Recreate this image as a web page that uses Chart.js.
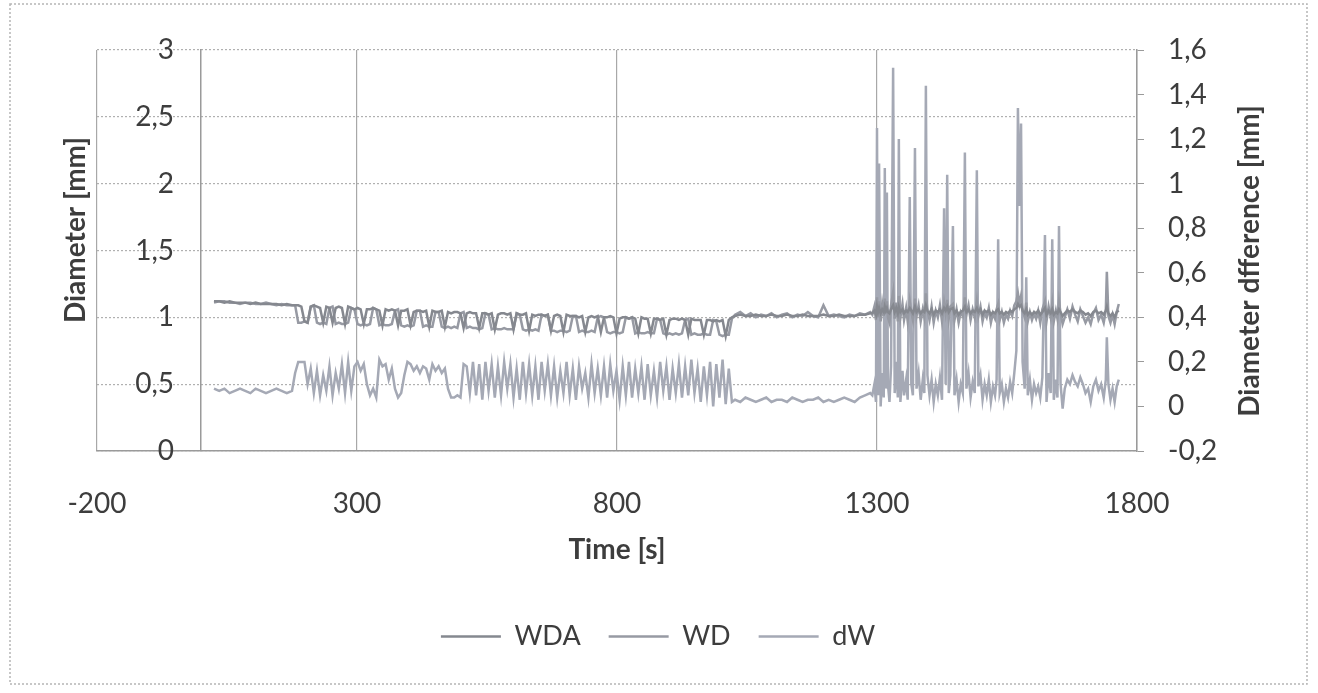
<!DOCTYPE html>
<html>
<head>
<meta charset="utf-8">
<script src="https://cdn.jsdelivr.net/npm/chart.js@4.4.1/dist/chart.umd.min.js"></script>
<style>
  html, body { margin: 0; padding: 0; background: #fff; }
  #chart { display: block; }
</style>
</head>
<body>
<canvas id="chart" width="1318" height="693"></canvas>
<script>
// time [s]
const time = [
  25, 35, 45, 55, 65, 75, 85, 95, 105, 115, 125, 135, 145, 155, 165, 175,
  181, 187, 193, 199, 205, 211, 217, 223, 229, 235,
  241, 247, 253, 259, 265, 271, 277, 283, 289, 295,
  301, 307, 313, 319, 325, 331, 337, 343, 349, 355,
  361, 367, 373, 379, 385, 391, 397, 403, 409, 415,
  421, 427, 433, 439, 445, 451, 457, 463, 469, 475,
  481, 487, 493, 499, 505, 511, 517, 523, 529, 535,
  541, 547, 553, 559, 565, 571, 577, 583, 589, 595,
  601, 607, 613, 619, 625, 631, 637, 643, 649, 655,
  661, 667, 673, 679, 685, 691, 697, 703, 709, 715,
  721, 727, 733, 739, 745, 751, 757, 763, 769, 775,
  781, 787, 793, 799, 805, 811, 817, 823, 829, 835,
  841, 847, 853, 859, 865, 871, 877, 883, 889, 895,
  901, 907, 913, 919, 925, 931, 937, 943, 949, 955,
  961, 967, 973, 979, 985, 991, 997, 1003, 1009, 1015,
  1021,
  1027, 1037, 1047, 1057, 1067, 1077, 1087, 1097, 1107, 1117,
  1127, 1137, 1147, 1157, 1167, 1177, 1187, 1197, 1207, 1217,
  1227, 1237, 1247, 1257, 1267, 1277, 1287,
  1291, 1295, 1298, 1300, 1302, 1304, 1307, 1310, 1313, 1315,
  1317, 1319, 1321, 1324, 1327, 1331, 1334, 1337, 1340, 1342,
  1345, 1349, 1352, 1356, 1359, 1363, 1366, 1369, 1373, 1376,
  1380, 1384, 1388, 1391, 1394, 1397, 1401, 1405, 1409, 1413,
  1417, 1421, 1425, 1429, 1432, 1435, 1438, 1441, 1446, 1449,
  1453, 1457, 1461, 1465, 1469, 1472, 1476, 1480, 1484, 1488,
  1492, 1495, 1499, 1503, 1507, 1511, 1515, 1519, 1523, 1527,
  1530, 1533, 1536, 1540, 1544, 1548, 1552, 1556, 1560, 1564,
  1568, 1571, 1574, 1577, 1580, 1584, 1587, 1590, 1594, 1598,
  1602, 1606, 1610, 1614, 1618, 1623, 1626, 1630, 1634, 1637,
  1640, 1644, 1647, 1650, 1653, 1657, 1661, 1666, 1671, 1676,
  1681, 1686, 1691, 1696, 1701, 1706, 1711, 1716, 1721, 1726,
  1731, 1736, 1740, 1742, 1745, 1749, 1753, 1757, 1761, 1765
];

// WDA [mm], left axis
const wda = [
  1.12, 1.12, 1.11, 1.12, 1.11, 1.11, 1.11, 1.10, 1.11, 1.10, 1.10, 1.10, 1.10, 1.09, 1.10, 1.09,
  1.09, 1.09, 1.08, 0.97, 0.96, 1.08, 1.09, 1.08, 1.07, 0.96,
  1.08, 1.07, 0.96, 1.07, 1.08, 1.07, 0.95, 1.08, 1.07, 1.06,
  1.07, 1.06, 0.95, 1.06, 1.06, 1.07, 1.06, 1.05, 0.94, 1.06,
  1.05, 1.06, 1.05, 0.94, 1.05, 1.05, 1.06, 0.94, 1.04, 1.05,
  1.05, 1.04, 1.05, 0.93, 1.05, 1.04, 1.04, 1.05, 0.93, 1.04,
  1.03, 1.04, 1.04, 1.03, 0.92, 1.03, 1.04, 1.03, 1.03, 0.92,
  1.03, 1.03, 1.02, 1.03, 0.91, 1.02, 1.03, 1.03, 1.02, 1.03,
  0.91, 1.03, 1.02, 1.02, 1.03, 0.90, 1.02, 1.01, 1.02, 1.02,
  1.01, 1.02, 0.90, 1.01, 1.02, 1.01, 0.89, 1.02, 1.01, 1.01,
  1.01, 1.00, 1.01, 0.89, 1.00, 1.01, 1.00, 1.01, 0.89, 1.00,
  1.00, 1.01, 1.00, 0.88, 0.99, 1.00, 1.00, 0.99, 1.00, 0.99,
  0.88, 1.00, 0.99, 0.99, 0.88, 0.99, 0.99, 0.98, 0.99, 0.87,
  0.98, 0.99, 0.99, 0.98, 0.99, 0.98, 0.87, 0.99, 0.98, 0.98,
  0.98, 0.87, 0.98, 0.98, 0.97, 0.98, 0.97, 0.98, 0.86, 0.98,
  1.00,
  1.01, 1.02, 1.01, 1.01, 1.02, 1.01, 1.01, 1.02, 1.01, 1.01,
  1.02, 1.01, 1.01, 1.02, 1.01, 1.01, 1.01, 1.02, 1.01, 1.01,
  1.02, 1.01, 1.01, 1.01, 1.02, 1.02, 1.03,
  1.03, 1.05, 1.02, 1.08, 1.04, 1.07, 1.03, 1.06, 1.04, 1.08,
  1.05, 1.07, 1.04, 1.03, 1.06, 1.09, 1.04, 1.07, 1.03, 1.08,
  1.04, 1.06, 1.03, 1.05, 1.04, 1.07, 1.05, 1.03, 1.08, 1.04,
  1.06, 1.03, 1.05, 1.04, 1.09, 1.05, 1.03, 1.06, 1.02, 1.05,
  1.04, 1.06, 1.03, 1.07, 1.05, 1.08, 1.04, 1.06, 1.07, 1.03,
  1.05, 1.02, 1.04, 1.05, 1.08, 1.04, 1.06, 1.03, 1.05, 1.04,
  1.07, 1.04, 1.06, 1.02, 1.05, 1.04, 1.05, 1.02, 1.04, 1.03,
  1.05, 1.06, 1.03, 1.04, 1.02, 1.04, 1.03, 1.05, 1.04, 1.06,
  1.07, 1.10, 1.08, 1.09, 1.05, 1.03, 1.06, 1.02, 1.04, 1.02,
  1.04, 1.03, 1.05, 1.02, 1.04, 1.07, 1.02, 1.05, 1.03, 1.06,
  1.02, 1.04, 1.03, 1.06, 1.04, 1.01, 1.03, 1.05, 1.04, 1.06,
  1.04, 1.03, 1.05, 1.04, 1.02, 1.03, 1.01, 1.04, 1.05, 1.03,
  1.04, 1.02, 1.05, 1.08, 1.03, 1.01, 1.03, 1.00, 1.04, 1.05
];

// WD [mm], left axis
const wd = [
  1.11, 1.12, 1.12, 1.11, 1.11, 1.10, 1.11, 1.11, 1.10, 1.10, 1.11, 1.10, 1.09, 1.10, 1.09, 1.09,
  1.09, 0.96, 0.96, 0.97, 0.96, 1.08, 1.09, 0.96, 0.95, 0.96,
  0.95, 1.07, 1.08, 0.95, 0.96, 0.95, 0.95, 0.96, 1.07, 1.06,
  0.95, 0.94, 0.95, 0.94, 0.95, 1.07, 1.06, 0.94, 0.95, 0.94,
  0.94, 0.95, 1.05, 1.06, 0.94, 0.93, 0.94, 0.93, 0.94, 1.05,
  1.05, 0.93, 0.94, 0.93, 0.93, 1.04, 1.04, 0.93, 0.92, 0.93,
  0.92, 0.93, 0.92, 1.03, 1.04, 0.92, 0.93, 0.92, 0.92, 0.91,
  0.92, 1.03, 1.02, 0.91, 0.92, 0.91, 0.91, 0.92, 0.91, 0.91,
  0.91, 1.03, 1.02, 0.91, 0.90, 0.91, 0.90, 0.91, 0.90, 1.02,
  1.01, 1.02, 0.90, 0.90, 0.89, 0.90, 0.90, 0.89, 0.90, 1.01,
  1.01, 0.89, 0.90, 0.89, 0.89, 0.90, 0.89, 1.00, 1.01, 1.00,
  0.89, 0.88, 0.89, 0.89, 0.88, 0.89, 1.00, 0.99, 1.00, 0.88,
  0.89, 0.88, 0.88, 0.89, 0.88, 0.88, 0.99, 0.98, 0.88, 0.87,
  0.88, 0.87, 0.88, 0.87, 0.88, 0.98, 0.99, 0.87, 0.88, 0.87,
  0.87, 0.88, 0.87, 0.87, 0.98, 0.97, 0.87, 0.86, 0.87, 0.87,
  0.99,
  1.02, 1.04, 1.01, 1.03, 1.00, 1.02, 1.01, 1.03, 1.00, 1.02,
  1.03, 1.00, 1.02, 1.01, 1.04, 1.01, 1.00, 1.09, 1.01, 1.02,
  1.01, 1.00, 1.02, 1.01, 1.03, 1.02, 1.04,
  1.02, 1.08, 0.98, 1.15, 1.00, 1.12, 0.97, 1.10, 1.01, 1.14,
  1.03, 1.12, 1.00, 0.96, 1.09, 1.19, 0.99, 1.11, 0.97, 1.16,
  1.00, 1.10, 0.98, 1.07, 0.97, 1.12, 1.04, 0.98, 1.14, 1.01,
  1.09, 0.97, 1.06, 1.00, 1.18, 1.05, 0.98, 1.08, 0.96, 1.05,
  1.00, 1.09, 0.97, 1.11, 1.03, 1.13, 0.99, 1.08, 1.10, 0.98,
  1.06, 0.96, 1.04, 1.01, 1.15, 1.02, 1.09, 0.98, 1.06, 1.00,
  1.12, 1.01, 1.08, 0.97, 1.04, 1.00, 1.07, 0.96, 1.03, 0.99,
  1.06, 1.10, 0.98, 1.04, 0.96, 1.02, 0.99, 1.05, 1.01, 1.09,
  1.12, 1.18, 1.10, 1.16, 1.05, 1.00, 1.11, 0.97, 1.04, 0.98,
  1.03, 0.99, 1.05, 0.96, 1.06, 1.12, 0.97, 1.08, 1.00, 1.10,
  0.97, 1.05, 0.99, 1.12, 1.03, 0.95, 1.00, 1.06, 0.99, 1.08,
  1.02, 0.97, 1.06, 1.01, 0.96, 1.00, 0.95, 1.03, 1.07, 0.98,
  1.02, 0.96, 1.05, 1.34, 1.01, 0.96, 1.02, 0.95, 1.04, 1.10
];

// dW [mm], right axis
const dw = [
  0.08, 0.07, 0.08, 0.06, 0.07, 0.08, 0.07, 0.06, 0.08, 0.07, 0.06, 0.07, 0.08, 0.07, 0.06, 0.07,
  0.15, 0.20, 0.20, 0.20, 0.10, 0.17, 0.06, 0.16, 0.05, 0.14,
  0.07, 0.18, 0.05, 0.15, 0.08, 0.19, 0.06, 0.20, 0.07, 0.18,
  0.20, 0.16, 0.19, 0.10, 0.05, 0.08, 0.04, 0.21, 0.18, 0.19,
  0.12, 0.17, 0.08, 0.04, 0.06, 0.14, 0.20, 0.19, 0.16, 0.18,
  0.15, 0.18, 0.17, 0.12, 0.19, 0.16, 0.18, 0.15, 0.17, 0.08,
  0.04, 0.04, 0.05, 0.04, 0.19, 0.18, 0.06, 0.20, 0.05, 0.19,
  0.03, 0.20, 0.07, 0.19, 0.04, 0.18, 0.05, 0.20, 0.08, 0.19,
  0.04, 0.17, 0.03, 0.20, 0.06, 0.19, 0.05, 0.18, 0.03, 0.20,
  0.07, 0.19, 0.05, 0.18, 0.04, 0.16, 0.06, 0.20, 0.05, 0.17,
  0.03, 0.18, 0.08, 0.15, 0.04, 0.19, 0.06, 0.17, 0.05, 0.18,
  0.04, 0.19, 0.07, 0.16, 0.03, 0.18, 0.05, 0.20, 0.04, 0.17,
  0.06, 0.18, 0.03, 0.19, 0.05, 0.16, 0.04, 0.20, 0.07, 0.18,
  0.03, 0.17, 0.06, 0.19, 0.04, 0.18, 0.05, 0.21, 0.06, 0.17,
  0.02, 0.18, 0.05, 0.20, 0.00, 0.19, 0.04, 0.21, 0.01, 0.17,
  0.02,
  0.03, 0.02, 0.04, 0.03, 0.02, 0.03, 0.04, 0.02, 0.03, 0.03,
  0.02, 0.04, 0.03, 0.02, 0.03, 0.03, 0.04, 0.02, 0.03, 0.02,
  0.03, 0.04, 0.03, 0.02, 0.04, 0.05, 0.06,
  0.05, 0.10, 0.02, 1.25, 0.05, 1.09, 0.00, 0.15, 0.04, 1.07,
  0.08, 0.96, 0.10, 0.02, 0.18, 1.52, 0.06, 0.20, 0.04, 1.20,
  0.02, 0.16, 0.05, 0.12, 0.03, 0.94, 0.10, 0.05, 1.16, 0.08,
  0.15, 0.03, 0.12, 0.06, 1.44, 0.14, 0.05, 0.12, 0.02, 0.10,
  0.05, 0.13, 0.03, 0.89, 0.10, 1.04, 0.06, 0.14, 0.81, 0.05,
  0.12, 0.02, 0.10, 0.06, 1.14, 0.08, 0.15, 0.04, 0.11, 0.06,
  1.06, 0.09, 0.14, 0.03, 0.10, 0.05, 0.12, 0.02, 0.09, 0.05,
  0.12, 0.75, 0.06, 0.10, 0.02, 0.08, 0.04, 0.11, 0.06, 0.15,
  0.25, 1.34, 0.90, 1.27, 0.20, 0.08, 0.58, 0.05, 0.12, 0.03,
  0.10, 0.06, 0.09, 0.04, 0.13, 0.77, 0.02, 0.15, 0.06, 0.75,
  0.03, 0.12, 0.04, 0.81, 0.10, -0.01, 0.08, 0.12, 0.10, 0.14,
  0.11, 0.09, 0.13, 0.10, 0.06, 0.08, 0.02, 0.09, 0.12, 0.07,
  0.10, 0.04, 0.12, 0.31, 0.10, 0.03, 0.08, 0.02, 0.09, 0.12
];

const xTicks = [-200, 300, 800, 1300, 1800];
const seriesNames = ["WDA", "WD", "dW"];
const seriesColors = ["#85888f", "#979aa3", "#a5a9b5"];

const pairs = (ys) => time.map((t, i) => ({ x: t, y: ys[i] }));
const comma = (v) => String(Math.round(v * 10) / 10).replace(".", ",");

const textColor = "#3d3d3d";
const tickFont = { family: "Lato, sans-serif", size: 28 };

const chartDecor = {
    id: "chartDecor",
    beforeDraw(chart) {
        const ctx = chart.ctx;
        ctx.save();
        ctx.fillStyle = "#fff";
        ctx.fillRect(0, 0, chart.width, chart.height);
        ctx.strokeStyle = "#b5b5b5";
        ctx.lineWidth = 1.5;
        ctx.setLineDash([2, 2]);
        ctx.strokeRect(10, 4, 1297, 680);
        ctx.restore();
    },
    afterDraw(chart) {
        const ctx = chart.ctx;
        const area = chart.chartArea;
        const yScale = chart.scales.y;
        const axisX = chart.scales.x.getPixelForValue(0);
        ctx.save();
        ctx.fillStyle = textColor;

        // left axis labels, placed next to the axis that crosses at x = 0
        ctx.font = "28px Lato, sans-serif";
        ctx.textAlign = "right";
        ctx.textBaseline = "middle";
        yScale.ticks.forEach(t => {
            ctx.fillText(comma(t.value), axisX - 27, yScale.getPixelForValue(t.value));
        });

        ctx.font = "bold 28px Lato, sans-serif";
        ctx.textAlign = "center";
        ctx.fillText("Time [s]", (area.left + area.right) / 2, 550);

        ctx.save();
        ctx.translate(76, 230);
        ctx.rotate(-Math.PI / 2);
        ctx.fillText("Diameter [mm]", 0, 0);
        ctx.restore();

        ctx.save();
        ctx.translate(1250, 261);
        ctx.rotate(-Math.PI / 2);
        ctx.fillText("Diameter dfference [mm]", 0, 0);
        ctx.restore();
        ctx.restore();
    }
};

new Chart(document.getElementById("chart"), {
    type: "line",
    data: {
        datasets: [
            { label: seriesNames[0], data: pairs(wda), yAxisID: "y" },
            { label: seriesNames[1], data: pairs(wd), yAxisID: "y" },
            { label: seriesNames[2], data: pairs(dw), yAxisID: "y1" },
        ].map((d, i) => Object.assign(d, {
            borderColor: seriesColors[i],
            backgroundColor: seriesColors[i],
            borderWidth: 2.5,
            pointRadius: 0,
            pointStyle: "line",
            tension: 0,
            fill: false,
        }))
    },
    options: {
        responsive: false,
        animation: false,
        layout: { padding: { left: 97, top: 50, right: 99, bottom: 33 } },
        plugins: {
            legend: {
                position: "bottom",
                labels: {
                    usePointStyle: true,
                    pointStyle: "line",
                    pointStyleWidth: 60,
                    padding: 28,
                    color: textColor,
                    font: { family: "Lato, sans-serif", size: 27 },
                }
            },
            tooltip: { enabled: false }
        },
        scales: {
            x: {
                type: "linear",
                min: xTicks[0],
                max: xTicks[xTicks.length - 1],
                afterBuildTicks(scale) { scale.ticks = xTicks.map(v => ({ value: v })); },
                ticks: { color: textColor, font: tickFont, padding: 36, maxRotation: 0, callback: v => String(v) },
                grid: { color: "#a8a8a8", lineWidth: 1.2, drawTicks: false },
                border: { display: true, color: "#9a9a9a", width: 1.5 },
                afterFit(scale) { scale.height = 144; }
            },
            y: {
                position: { x: 0 },
                min: 0,
                max: 3,
                ticks: { stepSize: 0.5, display: false },
                grid: { color: "#b0b0b0", lineWidth: 1.2, drawTicks: false },
                border: { display: true, color: "#9a9a9a", width: 1.5, dash: [2, 2] }
            },
            y1: {
                position: "right",
                min: -0.2,
                max: 1.6,
                ticks: { stepSize: 0.2, color: textColor, font: tickFont, padding: 24, callback: comma },
                grid: { drawOnChartArea: false, drawTicks: true, tickLength: 7, color: "#9a9a9a" },
                border: { display: true, color: "#9a9a9a", width: 1.5 },
                afterFit(scale) { scale.width = 82; }
            }
        }
    },
    plugins: [chartDecor]
});
</script>
</body>
</html>
